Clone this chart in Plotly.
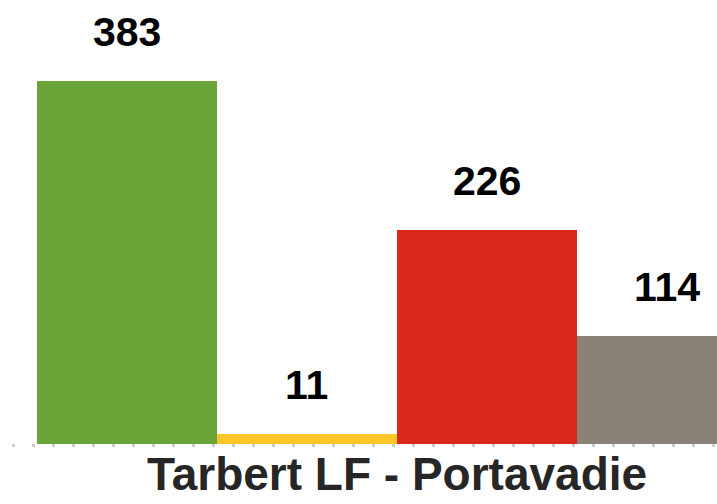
import plotly.graph_objects as go

#data
categories = [0, 1, 2, 3]
values = [383, 11, 226, 114]
labels = ['383', '11', '226', '114']
colors = ['#6BA539', '#FFC629', '#DA291C', '#8A8178']
title_text = 'Tarbert LF - Portavadie'

fig = go.Figure()
fig.add_trace(go.Bar(x=categories, y=values, width=1, marker=dict(color=colors, line=dict(width=0)),
                     hoverinfo='skip', showlegend=False))

#value labels above each bar
for c, v, t in zip(categories, values, labels):
    fig.add_annotation(x=c, y=v, text=f'<b>{t}</b>', showarrow=False, yanchor='bottom', yshift=24,
                       font=dict(family='Liberation Sans, Arial', size=41, color='#000000'))

#title under the bars
fig.add_annotation(x=1.5, xref='x', y=0, yref='paper', yanchor='top', yshift=2, showarrow=False,
                   text=f'<b>{title_text}</b>',
                   font=dict(family='Liberation Sans, Arial', size=46, color='#262626'))

#dotted baseline
fig.add_shape(type='line', xref='x', yref='y', x0=-0.639, x1=3.3, y0=-1.6, y1=-1.6, layer='below',
              line=dict(color='#cccccc', width=3, dash='3px,17px'))

fig.update_layout(
    width=717, height=504,
    margin=dict(l=0, r=0, t=0, b=56),
    plot_bgcolor='white', paper_bgcolor='white',
    bargap=0,
    xaxis=dict(range=[-0.7056, 3.278], visible=False),
    yaxis=dict(range=[-4.22, 468.4], visible=False),
)

#drop the default page margin so the figure sits at the top-left corner
fig.write_html('out.html', config={'displayModeBar': False},
               post_script="document.body.style.margin='0';")
